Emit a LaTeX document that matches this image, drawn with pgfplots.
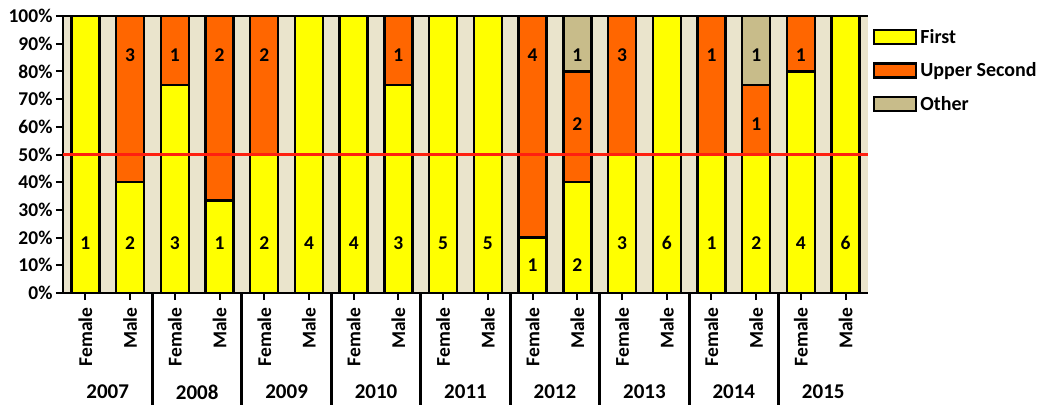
\documentclass[border=0pt]{standalone}
\usepackage{fontspec}
\setmainfont{Carlito}
\usepackage{pgfplots}
\pgfplotsset{compat=1.18}
\usepackage{pgfplotstable}

\definecolor{firstc}{HTML}{FFFF00}
\definecolor{upperc}{HTML}{FF6600}
\definecolor{otherc}{HTML}{C8BC8A}
\definecolor{bgc}{HTML}{EAE4CC}
\definecolor{halfc}{HTML}{FF2010}

% Number of graduates per degree class, Female/Male for each year 2007--2015
\pgfplotstableread{
x first upper other
0  1 0 0
1  2 3 0
2  3 1 0
3  1 2 0
4  2 2 0
5  4 0 0
6  4 0 0
7  3 1 0
8  5 0 0
9  5 0 0
10 1 4 0
11 2 2 1
12 3 3 0
13 6 0 0
14 1 1 0
15 2 1 1
16 4 1 0
17 6 0 0
}\grades

% Count labels written inside the segments (x, height in %, count)
\pgfplotstableread{
x y n
0  18 1
1  18 2
1  86 3
2  18 3
2  86 1
3  18 1
3  86 2
4  18 2
4  86 2
5  18 4
6  18 4
7  18 3
7  86 1
8  18 5
9  18 5
10 10 1
10 86 4
11 10 2
11 61 2
11 86 1
12 18 3
12 86 3
13 18 6
14 18 1
14 86 1
15 18 2
15 61 1
15 86 1
16 18 4
16 86 1
17 18 6
}\counts

\pgfplotsset{
  segment/.style={
    ybar, bar width=28pt, bar shift=0pt,
    draw=black, line width=2.4pt,
    legend image code/.code={\draw[##1, line width=2.2pt] (0pt,-7pt) rectangle (42pt,7pt);},
  },
}

\begin{document}
\begin{tikzpicture}
\useasboundingbox (0pt,0pt) rectangle (1042pt,405pt);
\begin{axis}[
  at={(63pt,112pt)}, anchor=south west,
  width=805pt, height=277pt, scale only axis,
  xmin=-0.5, xmax=17.5, ymin=0, ymax=100,
  axis x line*=bottom, axis y line*=left,
  axis line style={line width=2.4pt, black},
  axis background/.style={fill=bgc},
  ytick={0,10,...,100},
  yticklabel={\pgfmathprintnumber{\tick}\%},
  /pgf/number format/assume math mode=true,
  xtick={0,...,17},
  xticklabels={Female,Male,Female,Male,Female,Male,Female,Male,Female,Male,
               Female,Male,Female,Male,Female,Male,Female,Male},
  x tick label style={rotate=90, anchor=east},
  xticklabel shift=4pt,
  tick label style={font=\fontsize{19.5}{19.5}\selectfont\bfseries},
  tick style={line width=2pt, black},
  major tick length=7pt,
  tick align=outside,
  clip=false,
  reverse legend,
  legend style={draw=none, fill=none, inner sep=0pt,
    at={(rel axis cs:1,1)}, anchor=north west, xshift=5pt, yshift=-10pt,
    font=\fontsize{20}{20}\selectfont\bfseries,
    row sep=12pt,
    nodes={inner sep=3pt}},
  legend cell align=left,
]
% cumulative heights, widest class first so later segments sit on top
\addplot[segment, fill=otherc] table[x=x,
  y expr={100*(\thisrow{first}+\thisrow{upper}+\thisrow{other})/(\thisrow{first}+\thisrow{upper}+\thisrow{other})}]{\grades};
\addplot[segment, fill=upperc] table[x=x,
  y expr={100*(\thisrow{first}+\thisrow{upper})/(\thisrow{first}+\thisrow{upper}+\thisrow{other})}]{\grades};
\addplot[segment, fill=firstc] table[x=x,
  y expr={100*\thisrow{first}/(\thisrow{first}+\thisrow{upper}+\thisrow{other})}]{\grades};
\legend{Other, Upper Second, First}

% 50% reference line and thin top border
\draw[halfc, line width=2.4pt] (axis cs:-0.5,50) -- (axis cs:17.5,50);
\draw[black, line width=1.2pt] (axis cs:-0.5,100) -- (axis cs:17.5,100);

\addplot[only marks, mark=none, forget plot,
  nodes near coords, point meta=explicit symbolic,
  every node near coord/.style={anchor=center, font=\fontsize{19.5}{19.5}\selectfont\bfseries, text=black}]
  table[x=x, y=y, meta=n]{\counts};

% year group separators and labels
\pgfplotsinvokeforeach{1.5,3.5,5.5,7.5,9.5,11.5,13.5,15.5}{
  \draw[black, line width=3pt] (axis cs:#1,0) -- ++(0pt,-112pt);
}
\pgfplotsset{every node/.append style={}}
\node[font=\fontsize{21}{21}\selectfont\bfseries] at (axis cs:0.5,0) [yshift=-99pt] {2007};
\node[font=\fontsize{21}{21}\selectfont\bfseries] at (axis cs:2.5,0) [yshift=-99pt] {2008};
\node[font=\fontsize{21}{21}\selectfont\bfseries] at (axis cs:4.5,0) [yshift=-99pt] {2009};
\node[font=\fontsize{21}{21}\selectfont\bfseries] at (axis cs:6.5,0) [yshift=-99pt] {2010};
\node[font=\fontsize{21}{21}\selectfont\bfseries] at (axis cs:8.5,0) [yshift=-99pt] {2011};
\node[font=\fontsize{21}{21}\selectfont\bfseries] at (axis cs:10.5,0) [yshift=-99pt] {2012};
\node[font=\fontsize{21}{21}\selectfont\bfseries] at (axis cs:12.5,0) [yshift=-99pt] {2013};
\node[font=\fontsize{21}{21}\selectfont\bfseries] at (axis cs:14.5,0) [yshift=-99pt] {2014};
\node[font=\fontsize{21}{21}\selectfont\bfseries] at (axis cs:16.5,0) [yshift=-99pt] {2015};
\end{axis}
\end{tikzpicture}
\end{document}
